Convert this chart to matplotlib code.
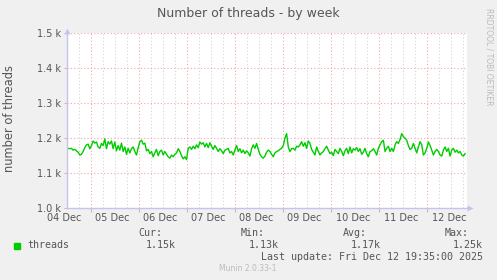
import numpy as np
import matplotlib
matplotlib.use("Agg")
import matplotlib.pyplot as plt
import matplotlib.transforms as mtransforms

# hours since 04 Dec 00:00 covered by the sampled series
t_start = 12.7
t_end = 210.8
view_start = 12.4
view_end = 211.6

threads = [
    1171, 1170, 1171, 1166, 1168, 1164, 1160, 1152, 1154, 1162, 1173, 1181, 1183, 1170, 1179, 1192,
    1186, 1189, 1175, 1171, 1185, 1179, 1198, 1170, 1190, 1183, 1192, 1170, 1189, 1164, 1179, 1166,
    1186, 1162, 1175, 1154, 1171, 1158, 1170, 1175, 1162, 1152, 1173, 1190, 1194, 1183, 1186, 1164,
    1168, 1156, 1162, 1147, 1158, 1168, 1150, 1162, 1166, 1152, 1162, 1154, 1147,
    1143, 1152, 1147, 1154, 1158, 1170, 1162, 1150, 1141, 1147, 1139, 1171, 1175, 1168, 1177, 1170,
    1181, 1173, 1189, 1183, 1187, 1175, 1185, 1173, 1187, 1177, 1168, 1179, 1171, 1162, 1170, 1164,
    1156, 1166, 1168, 1171, 1158, 1162, 1152, 1166, 1179, 1162, 1170, 1158, 1166, 1156, 1164, 1158,
    1149, 1170, 1181, 1171, 1185, 1168, 1154, 1147, 1143, 1149, 1160, 1166, 1162,
    1154, 1147, 1158, 1162, 1164, 1168, 1171, 1179, 1200, 1213, 1175, 1162, 1170, 1171, 1166, 1177,
    1175, 1181, 1190, 1177, 1187, 1171, 1192, 1185, 1168, 1160, 1152, 1175, 1162, 1152, 1158, 1162,
    1170, 1177, 1166, 1156, 1160, 1150, 1168, 1162, 1156, 1171, 1162, 1150, 1164, 1171, 1156, 1175,
    1158, 1170, 1166, 1173, 1162, 1170, 1154, 1160, 1171, 1156, 1147, 1162, 1164,
    1170, 1162, 1152, 1171, 1181, 1190, 1194, 1162, 1171, 1177, 1162, 1171, 1162, 1181, 1190, 1185,
    1196, 1213, 1204, 1200, 1194, 1179, 1168, 1171, 1185, 1171, 1158, 1175, 1190, 1181, 1152, 1158,
    1171, 1189, 1179, 1166, 1152, 1162, 1168, 1162, 1152, 1149, 1166, 1175, 1162, 1171, 1149, 1166,
    1171, 1160, 1166, 1158, 1162, 1152, 1149, 1156,
]

day_labels = ["04 Dec", "05 Dec", "06 Dec", "07 Dec", "08 Dec",
              "09 Dec", "10 Dec", "11 Dec", "12 Dec"]
y_ticks = [1000, 1100, 1200, 1300, 1400, 1500]
y_labels = ["1.0 k", "1.1 k", "1.2 k", "1.3 k", "1.4 k", "1.5 k"]

stat_names = ["Cur:", "Min:", "Avg:", "Max:"]
stat_values = ["1.15k", "1.13k", "1.17k", "1.25k"]

W, H = 497, 280
bg = "#F0F0F0"
axis_col = "#C4C4F0"
major_col = "#F0A8A8"
minor_col = "#D4D4D4"
text_col = "#555555"

fig = plt.figure(figsize=(W / 100, H / 100), dpi=100, facecolor=bg)
left, right, top, bottom = 66.7, 466.7, 33.0, 208.3
ax = fig.add_axes([left / W, 1 - bottom / H, (right - left) / W, (bottom - top) / H])
ax.set_facecolor("white")

t = np.linspace(t_start, t_end, len(threads))
ax.plot(t, threads, color="#00CC00", lw=1.0, zorder=3)

ax.set_xlim(view_start, view_end)
ax.set_ylim(1000, 1500)

# grid lines: red at midnight, grey every 6 hours, red at every 100
midnights = [24 * k for k in range(1, 9)]
six_hours = [h for h in range(18, 212, 6) if h % 24 != 0]
noons = [24 * k + 12 for k in range(len(day_labels))]
for h in six_hours:
    ax.axvline(h, color=minor_col, lw=0.8, ls=(0, (1, 2)), zorder=1)
for h in midnights:
    ax.axvline(h, color=major_col, lw=0.8, ls=(0, (1, 2)), zorder=2)
for v in y_ticks[1:]:
    ax.axhline(v, color=major_col, lw=0.8, ls=(0, (1, 2)), zorder=2)

ax.set_xticks(midnights)
ax.set_xticklabels([""] * len(midnights))
ax.tick_params(axis="x", which="major", length=3, color=major_col, direction="out")
ax.set_xticks(noons, minor=True)
ax.set_xticklabels(day_labels, minor=True)
ax.tick_params(axis="x", which="minor", length=0, pad=3.5, labelsize=7, labelcolor=text_col)
shift = mtransforms.ScaledTranslation(-2.5 / 100, 0, fig.dpi_scale_trans)
for lab in ax.get_xticklabels(minor=True):
    lab.set_transform(lab.get_transform() + shift)

ax.set_yticks(y_ticks)
ax.set_yticklabels(y_labels)
ax.tick_params(axis="y", length=2, color=major_col, pad=2, labelsize=7, labelcolor=text_col)

for s in ["top", "right"]:
    ax.spines[s].set_visible(False)
for s in ["left", "bottom"]:
    ax.spines[s].set_color(axis_col)
    ax.spines[s].set_linewidth(1.0)
    ax.spines[s].set_zorder(4)

# axis arrows
up = mtransforms.offset_copy(ax.transAxes, fig=fig, x=0, y=2.5, units="dots")
ax.plot([0], [1], marker="^", ms=5, color=axis_col, mec="none",
        transform=up, clip_on=False, zorder=5)
rt = mtransforms.offset_copy(ax.transAxes, fig=fig, x=3.5, y=0, units="dots")
ax.plot([1], [0], marker=">", ms=5, color=axis_col, mec="none",
        transform=rt, clip_on=False, zorder=5)

fig.text(248 / W, 1 - 13 / H, "Number of threads - by week", ha="center", va="center",
         fontsize=9, color=text_col)
fig.text(10 / W, 1 - 119 / H, "number of threads", ha="center", va="center",
         rotation=90, fontsize=8.3, color=text_col)
fig.text(489 / W, 1 - 57 / H, "RRDTOOL / TOBI OETIKER", ha="center", va="center",
         rotation=270, fontsize=5.5, color="#BBBBBB")

# legend block
mono = "DejaVu Sans Mono"
fig.patches.append(plt.Rectangle((14 / W, 1 - 248.5 / H), 6 / W, 6 / H,
                                 transform=fig.transFigure, color="#00CC00"))
fig.text(27 / W, 1 - 245.5 / H, "threads", ha="left", va="center",
         fontsize=7.2, family=mono, color=text_col)
name_right = [162, 265, 367, 469]
value_right = [176, 279, 381, 483]
for name, val, nx, vx in zip(stat_names, stat_values, name_right, value_right):
    fig.text(nx / W, 1 - 233 / H, name, ha="right", va="center",
             fontsize=7.2, family=mono, color=text_col)
    fig.text(vx / W, 1 - 245.5 / H, val, ha="right", va="center",
             fontsize=7.2, family=mono, color=text_col)
fig.text(483 / W, 1 - 257.5 / H, "Last update: Fri Dec 12 19:35:00 2025", ha="right",
         va="center", fontsize=7.2, family=mono, color=text_col)
fig.text(248 / W, 1 - 268.5 / H, "Munin 2.0.33-1", ha="center", va="center",
         fontsize=5.5, color="#BBBBBB")

fig.savefig("out.png", dpi=100, facecolor=bg)
